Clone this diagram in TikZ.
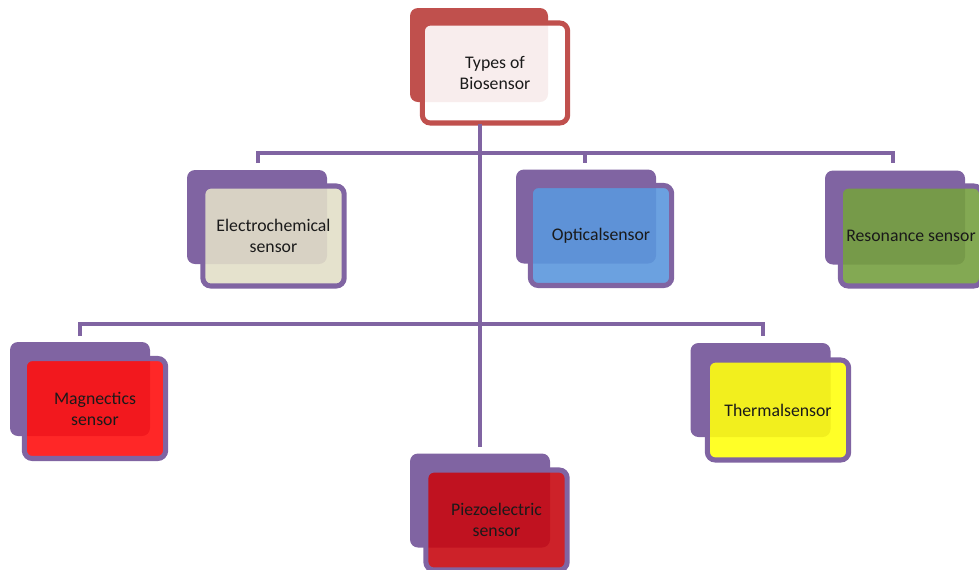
\documentclass[tikz,border=0pt]{standalone}
\usepackage{fontspec}
\setmainfont{Carlito}
\definecolor{purp}{HTML}{8064A2}
\definecolor{redb}{HTML}{C0504D}
\definecolor{pinkf}{HTML}{FFFFFF}
\definecolor{elecf}{HTML}{E2DFC8}
\definecolor{optf}{HTML}{5B97DD}
\definecolor{resf}{HTML}{76A040}
\definecolor{magf}{HTML}{FF1010}
\definecolor{therf}{HTML}{FFFF10}
\definecolor{piezf}{HTML}{C80A12}
\definecolor{txt}{HTML}{1A1A1A}
\begin{document}
\begin{tikzpicture}[x=0.75pt,y=-0.75pt,
  backbox/.style={rectangle, rounded corners=6pt, fill=purp, draw=none,
    minimum width=105pt, minimum height=70.5pt, inner sep=0pt},
  frontbox/.style={rectangle, rounded corners=6pt, draw=purp, line width=3.8pt,
    fill=#1, fill opacity=0.9, text opacity=1, text=txt,
    minimum width=106pt, minimum height=75pt, align=center,
    font=\fontsize{13.3}{15.8}\selectfont, inner sep=1pt},
  conn/.style={draw=purp, line width=3.6pt},
  trunk/.style={draw=purp, line width=3pt}]
\useasboundingbox (0,0) rectangle (979,569);
% top
\node[backbox, fill=redb, minimum width=103.5pt] (topb) at (479,55) {};
\node[frontbox=pinkf, draw=redb, minimum width=109pt] (top) at (495,73) {Types of\\Biosensor};
% row 1
\node[backbox] (elb) at (257,217) {};
\node[frontbox=elecf] (el) at (273.5,236) {Electrochemical\\sensor};
\node[backbox] (opb) at (586,216.5) {};
\node[frontbox=optf] (op) at (601,235.5) {Opticalsensor};
\node[backbox] (reb) at (895,217.5) {};
\node[frontbox=resf] (re) at (911,236) {Resonance sensor};
% row 2
\node[backbox] (mab) at (80,389) {};
\node[frontbox=magf] (ma) at (95,408.5) {Magnectics\\sensor};
\node[backbox] (thb) at (760.5,390) {};
\node[frontbox=therf] (th) at (778,410) {Thermalsensor};
\node[backbox] (pib) at (480,500.5) {};
\node[frontbox=piezf] (pi) at (496.5,520) {Piezoelectric\\sensor};
% connector coordinates
\coordinate (ts) at (480,124);
\coordinate (tend) at (480,447);
\coordinate (h1l) at (258,153);
\coordinate (h1m) at (585,153);
\coordinate (h1r) at (893,153);
\coordinate (d1l) at (258,163);
\coordinate (d1m) at (585,163);
\coordinate (d1r) at (893,163);
\coordinate (h2l) at (80,324);
\coordinate (h2r) at (763,324);
\coordinate (d2l) at (80,336);
\coordinate (d2r) at (763,336);
\draw[trunk] (ts) -- (tend);
\draw[conn] (d1l) -- (h1l) -- (h1r) -- (d1r);
\draw[conn] (h1m) -- (d1m);
\draw[conn] (d2l) -- (h2l) -- (h2r) -- (d2r);
\end{tikzpicture}
\end{document}
